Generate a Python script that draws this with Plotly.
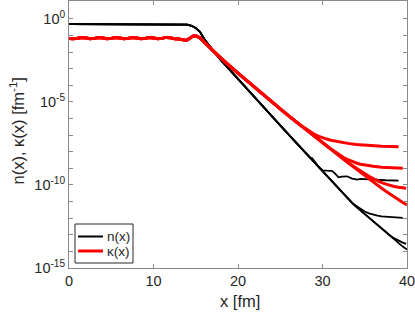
import numpy as np
import plotly.graph_objects as go

# ---------------- data (log10 values) ----------------
# black n(x): common part
n_main_x = [0, 2, 4, 6, 8, 10, 12, 13, 13.5, 14, 14.5, 15, 15.5, 16, 16.5, 17, 17.5, 18,
            19, 20, 21, 22, 23, 24, 25, 26, 27, 28, 28.5]
n_main_log = [-0.32, -0.32, -0.32, -0.32, -0.32, -0.32, -0.32, -0.32, -0.33, -0.35, -0.42,
              -0.56, -0.78, -1.22, -1.55, -1.88, -2.19, -2.5, -3.06, -3.63, -4.2, -4.76,
              -5.31, -5.86, -6.42, -6.97, -7.52, -8.08, -8.35]
# black curve 1 (noisy floor)
n1_x = [28.75, 29.0, 29.3, 29.7, 30.0, 30.5, 31.1, 31.5, 31.9, 32.3, 32.9, 33.5, 34.1, 34.5,
        35.5, 36.5, 37.5, 39.0]
n1_log = [-8.38, -8.52, -8.74, -9.0, -9.12, -9.14, -9.15, -9.32, -9.54, -9.5, -9.48, -9.62,
          -9.68, -9.64, -9.68, -9.68, -9.72, -9.74]
# shared part of black curves 2-4
n_low_x = [29, 30, 31, 32, 33, 33.5]
n_low_log = [-8.63, -9.19, -9.74, -10.3, -10.83, -11.08]
# black curve 2
n2_x = [34, 34.5, 35, 35.5, 36, 36.5, 37, 38, 39, 39.5]
n2_log = [-11.27, -11.45, -11.6, -11.71, -11.79, -11.85, -11.89, -11.94, -11.97, -11.98]
# shared part of black curves 3-4
n34_x = [34, 35, 36, 37, 38]
n34_log = [-11.32, -11.76, -12.17, -12.6, -13.04]
# black curve 3 and 4 ends
n3_x = [38.5, 39, 39.5, 39.9]
n3_log = [-13.22, -13.37, -13.47, -13.55]
n4_x = [38.5, 39, 39.5, 40]
n4_log = [-13.27, -13.5, -13.71, -13.89]

# red kappa(x): common part
k_main_x = [0, 0.5, 1, 1.5, 2, 2.5, 3, 3.5, 4, 4.5, 5, 5.5, 6, 6.5, 7, 7.5, 8, 8.5, 9, 9.5,
            10, 10.5, 11, 11.5, 12, 12.5, 13, 13.5, 13.9, 14.3, 14.6, 14.9, 15.2, 15.5, 16,
            16.5, 17, 17.5, 18, 19, 20, 21, 22, 23, 24, 25, 26, 27, 27.5]
k_main_log = [-1.18, -1.2, -1.17, -1.13, -1.15, -1.2, -1.18, -1.13, -1.15, -1.2, -1.18, -1.13,
              -1.15, -1.2, -1.18, -1.13, -1.15, -1.2, -1.18, -1.13, -1.15, -1.2, -1.18, -1.12,
              -1.14, -1.21, -1.22, -1.28, -1.3, -1.18, -1.06, -1.03, -1.06, -1.15, -1.38,
              -1.64, -1.9, -2.14, -2.38, -2.83, -3.27, -3.71, -4.14, -4.57, -5.0, -5.42,
              -5.84, -6.25, -6.45]
# red curve 1
k1_x = [28, 28.5, 29, 29.5, 30, 30.5, 31, 32, 33, 34, 35, 36, 37, 38, 39]
k1_log = [-6.6, -6.78, -6.94, -7.06, -7.16, -7.24, -7.31, -7.42, -7.5, -7.56, -7.61, -7.64,
          -7.67, -7.69, -7.7]
# shared red 2-4
k_low_x = [28, 28.5, 29, 30]
k_low_log = [-6.66, -6.86, -7.06, -7.46]
# red curve 2
k2_x = [30.5, 31, 31.5, 32, 32.5, 33, 33.5, 34, 34.5, 35, 36, 37, 38, 39, 39.5]
k2_log = [-7.64, -7.83, -8.02, -8.2, -8.35, -8.48, -8.6, -8.68, -8.75, -8.8, -8.88, -8.93,
          -8.97, -8.99, -9.0]
# shared red 3-4
k34_x = [31, 32, 33]
k34_log = [-7.86, -8.26, -8.66]
# red curve 3
k3_x = [33.5, 34, 34.5, 35, 35.5, 36, 36.5, 37, 37.5, 38, 38.5, 39, 39.5, 39.9]
k3_log = [-8.83, -9.0, -9.16, -9.33, -9.48, -9.62, -9.75, -9.86, -9.95, -10.03, -10.09,
          -10.14, -10.18, -10.2]
# red curve 4
k4_x = [33.5, 34, 35, 36, 37, 37.5, 38, 38.5, 39, 39.5, 40]
k4_log = [-8.85, -9.05, -9.44, -9.83, -10.2, -10.38, -10.56, -10.73, -10.9, -11.06, -11.2]

y_major_exp = [-15, -10, -5, 0]
y_minor_exp = list(range(-15, 1))
x_ticks = [0, 10, 20, 30, 40]
legend_labels = ["n(x)", "κ(x)"]
line_colors = ["black", "#ff0000"]


def curve(parts):
    xs = np.concatenate([np.asarray(p[0], float) for p in parts])
    ys = np.concatenate([np.asarray(p[1], float) for p in parts])
    return xs, 10.0 ** ys


black_curves = [
    curve([(n_main_x, n_main_log), (n1_x, n1_log)]),
    curve([(n_main_x, n_main_log), (n_low_x, n_low_log), (n2_x, n2_log)]),
    curve([(n_main_x, n_main_log), (n_low_x, n_low_log), (n34_x, n34_log), (n3_x, n3_log)]),
    curve([(n_main_x, n_main_log), (n_low_x, n_low_log), (n34_x, n34_log), (n4_x, n4_log)]),
]
red_curves = [
    curve([(k_main_x, k_main_log), (k1_x, k1_log)]),
    curve([(k_main_x, k_main_log), (k_low_x, k_low_log), (k2_x, k2_log)]),
    curve([(k_main_x, k_main_log), (k_low_x, k_low_log), (k34_x, k34_log), (k3_x, k3_log)]),
    curve([(k_main_x, k_main_log), (k_low_x, k_low_log), (k34_x, k34_log), (k4_x, k4_log)]),
]

W, H = 415, 315
ML, MR, MT, MB = 69, 8, 1, 47
PW, PH = W - ML - MR, H - MT - MB


def px(xp):
    return (xp - ML) / PW


def py(yp):
    return (H - MB - yp) / PH


fig = go.Figure()
for (xs, ys) in black_curves:
    fig.add_trace(go.Scatter(x=xs, y=ys, mode="lines", line=dict(color=line_colors[0], width=1.8),
                             name=legend_labels[0], showlegend=False, hoverinfo="skip"))
for (xs, ys) in red_curves:
    fig.add_trace(go.Scatter(x=xs, y=ys, mode="lines", line=dict(color=line_colors[1], width=3),
                             name=legend_labels[1], showlegend=False, hoverinfo="skip"))

axis_col = "#8a8a8a"
txt_col = "#262626"
font_fam = "Liberation Sans, Arial, sans-serif"

# legend box (drawn like the MATLAB legend)
shapes = [dict(type="rect", xref="paper", yref="paper", x0=px(75), x1=px(133), y0=py(263),
               y1=py(224), line=dict(color="#262626", width=1), fillcolor="white", layer="above")]
annotations = []
for i, (lab, col) in enumerate(zip(legend_labels, line_colors)):
    yc = 236.5 + 14.5 * i
    shapes.append(dict(type="line", xref="paper", yref="paper", x0=px(78), x1=px(103),
                       y0=py(yc), y1=py(yc), line=dict(color=col, width=2 if i == 0 else 3),
                       layer="above"))
    annotations.append(dict(text=lab, xref="paper", yref="paper", x=px(104.5), y=py(yc),
                            xanchor="left", yanchor="middle", showarrow=False,
                            font=dict(size=13.5, color=txt_col, family=font_fam)))
# axis titles
annotations.append(dict(text="x [fm]", xref="paper", yref="paper", x=px(240), y=py(301),
                        xanchor="center", yanchor="middle", showarrow=False,
                        font=dict(size=16.5, color=txt_col, family=font_fam)))
annotations.append(dict(text="n(x), κ(x) [fm<sup>-1</sup>]", xref="paper", yref="paper",
                        x=px(17.5), y=py(131), xanchor="center", yanchor="middle",
                        textangle=-90, showarrow=False,
                        font=dict(size=16.5, color=txt_col, family=font_fam)))

fig.update_layout(
    width=W, height=H,
    margin=dict(l=ML, r=MR, t=MT, b=MB),
    plot_bgcolor="white", paper_bgcolor="white",
    font=dict(family=font_fam, size=14.5, color=txt_col),
    showlegend=False,
    shapes=shapes, annotations=annotations,
)
fig.update_xaxes(range=[0, 40], tickvals=x_ticks, ticktext=[str(v) for v in x_ticks],
                 ticks="inside", ticklen=4, tickcolor=axis_col, showline=True,
                 linecolor=axis_col, linewidth=1, mirror="ticks", showgrid=False,
                 zeroline=False, automargin=False, ticklabeloverflow="allow",
                 tickfont=dict(size=14.5))
fig.update_yaxes(type="log", range=[-15, 1.07],
                 tickvals=[10.0 ** e for e in y_major_exp],
                 ticktext=["10<sup>%d</sup>" % e for e in y_major_exp],
                 minor=dict(tickmode="array", tickvals=[10.0 ** e for e in y_minor_exp],
                            ticks="inside", ticklen=4, tickcolor=axis_col, showgrid=False),
                 ticks="inside", ticklen=4, tickcolor=axis_col, showline=True,
                 linecolor=axis_col, linewidth=1, mirror="ticks", showgrid=False,
                 zeroline=False, automargin=False, ticklabeloverflow="allow",
                 tickfont=dict(size=14.5))

fig.write_html("out.html", config={"displayModeBar": False, "staticPlot": True},
               post_script="document.body.style.margin='0px';"
                           "document.body.style.overflow='hidden';")
